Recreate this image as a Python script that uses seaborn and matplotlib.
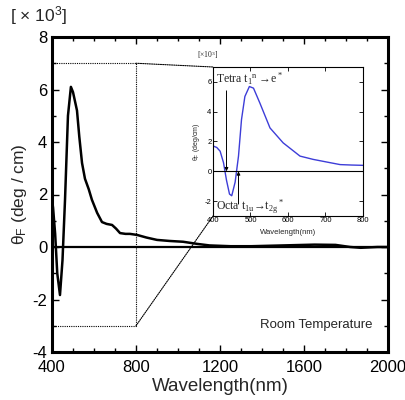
import numpy as np
import pandas as pd
import matplotlib
matplotlib.use("Agg")
import matplotlib.pyplot as plt
from matplotlib.patches import ConnectionPatch
from matplotlib.ticker import MultipleLocator
import seaborn as sns

# main curve (x10^3 deg/cm)
WL_MAIN = [400, 405, 415, 425, 438, 450, 462, 476, 490, 500, 519, 530, 543, 557,
           575, 590, 615, 638, 660, 686, 705, 724, 750, 771, 805, 850, 900, 960,
           1024, 1090, 1150, 1250, 1350, 1450, 1550, 1650, 1750, 1820, 1870, 1950, 2000]
THETA_MAIN = [1.8, 1.5, 0.5, -1.0, -1.83, -0.5, 1.8, 5.0, 6.1, 5.9, 5.2, 4.2, 3.2, 2.6,
              2.2, 1.8, 1.3, 0.95, 0.88, 0.84, 0.7, 0.53, 0.5, 0.5, 0.46, 0.36, 0.27, 0.23,
              0.2, 0.12, 0.06, 0.03, 0.03, 0.05, 0.07, 0.09, 0.08, 0.0, -0.03, 0.0, 0.0]

# inset curve (400-800 nm)
WL_INSET = [400, 410, 419, 428, 436, 444, 450, 459, 468, 476, 485, 497, 508, 525,
            552, 587, 632, 667, 712, 739, 770, 800]
THETA_INSET = [1.7, 1.6, 1.35, 0.58, -0.6, -1.53, -1.64, -0.73, 1.02, 3.47, 5.02, 5.69,
               5.58, 4.58, 2.91, 1.91, 1.02, 0.8, 0.58, 0.45, 0.42, 0.4]

main_df = pd.DataFrame({"wl": WL_MAIN, "theta": THETA_MAIN})
inset_df = pd.DataFrame({"wl": WL_INSET, "theta": THETA_INSET})

sns.set_style("ticks")
plt.rcParams["font.family"] = ["Liberation Sans", "DejaVu Sans"]
plt.rcParams["mathtext.default"] = "regular"
plt.rcParams["axes.unicode_minus"] = False
plt.rcParams["xtick.direction"] = "in"
plt.rcParams["ytick.direction"] = "in"
plt.rcParams["xtick.color"] = "black"
plt.rcParams["ytick.color"] = "black"
plt.rcParams["axes.edgecolor"] = "black"

SERIF = ["Liberation Serif", "DejaVu Serif"]

fig = plt.figure(figsize=(4.06, 4.0), dpi=100)
ax = fig.add_axes([52 / 406, 1 - 352 / 400, 336 / 406, 315 / 400])

sns.lineplot(data=main_df, x="wl", y="theta", ax=ax, color="black", linewidth=1.8)
ax.axhline(0, color="black", linewidth=1.6)
ax.set_xlim(400, 2000)
ax.set_ylim(-4, 8)
ax.xaxis.set_major_locator(MultipleLocator(400))
ax.xaxis.set_minor_locator(MultipleLocator(100))
ax.yaxis.set_major_locator(MultipleLocator(2))
ax.yaxis.set_minor_locator(MultipleLocator(1))
ax.tick_params(which="both", top=True, right=True, labelsize=12, width=1)
ax.tick_params(which="major", length=5)
ax.tick_params(which="minor", length=3)
ax.tick_params(axis="x", pad=6)
for s in ax.spines.values():
    s.set_linewidth(2.2)
ax.set_xlabel("Wavelength(nm)", fontsize=13.5, labelpad=2)
ax.set_ylabel("θ$_F$ (deg / cm)", fontsize=12.5, labelpad=2)
ax.text(0.955, 0.085, "Room Temperature", transform=ax.transAxes,
        ha="right", va="center", fontsize=9.5)
fig.text(10 / 406, 1 - 16 / 400, "[ × 10$^3$]", fontsize=12.5, ha="left", va="center")

# zoom box
dot = dict(color="black", linestyle=(0, (1, 1)), linewidth=0.8)
ax.plot([400, 800, 800, 400], [7, 7, -3, -3], **dot)

axi = fig.add_axes([213 / 406, 1 - 216 / 400, 150 / 406, 149 / 400])
sns.lineplot(data=inset_df, x="wl", y="theta", ax=axi, color="#3d3dd8", linewidth=1)
axi.axhline(0, color="black", linewidth=0.8)
axi.set_xlim(400, 800)
axi.set_ylim(-3, 7)
axi.xaxis.set_major_locator(MultipleLocator(100))
axi.yaxis.set_major_locator(MultipleLocator(2))
axi.tick_params(which="both", right=True, top=True, labelsize=5.5, length=3,
                width=0.6, pad=1)
for s in axi.spines.values():
    s.set_linewidth(0.8)
axi.set_xlabel("Wavelength(nm)", fontsize=5.5, labelpad=3)
axi.set_ylabel("θ$_F$ (deg/cm)", fontsize=5, labelpad=2)

for xy_main, xy_inset in [((800, 7), (0, 1)), ((800, -3), (0, 0))]:
    con = ConnectionPatch(xyA=xy_main, coordsA=ax.transData,
                          xyB=xy_inset, coordsB=axi.transAxes, **dot)
    fig.add_artist(con)

fig.text(197 / 406, 1 - 55 / 400, "[×10$^3$]", fontsize=5.5, family=SERIF,
         ha="left", va="center")

axi.annotate("", xy=(436, 0), xytext=(436, 5.4),
             arrowprops=dict(arrowstyle="-|>", color="black", lw=0.7,
                             mutation_scale=5, shrinkA=0, shrinkB=0))
axi.annotate("", xy=(468, 0), xytext=(468, -2.2),
             arrowprops=dict(arrowstyle="-|>", color="black", lw=0.7,
                             mutation_scale=5, shrinkA=0, shrinkB=0))
axi.text(407, 6.2, "Tetra t$_1$$^n$ →e$^*$", fontsize=8.5, family=SERIF,
         ha="left", va="center")
axi.text(407, -2.4, "Octa t$_{1u}$→t$_{2g}$$^*$", fontsize=8.5, family=SERIF,
         ha="left", va="center")

fig.savefig("out.png", dpi=100, facecolor="white")
